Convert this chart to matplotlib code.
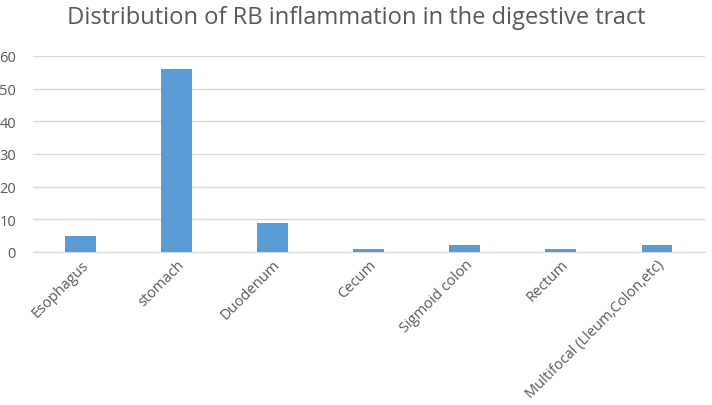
import matplotlib
matplotlib.use("Agg")
import matplotlib.pyplot as plt
import numpy as np

plt.rcParams["font.family"] = ["Open Sans", "DejaVu Sans"]

categories = ["Esophagus", "stomach", "Duodenum", "Cecum", "Sigmoid colon", "Rectum",
              "Multifocal (Lleum,Colon,etc)"]
counts = [5, 56, 9, 1, 2, 1, 2]
yticks = [0, 10, 20, 30, 40, 50, 60]

BAR = "#5b9bd5"
INK = "#595959"
GRID = "#d9d9d9"

fig = plt.figure(figsize=(7.12, 4.06), dpi=100)
ax = fig.add_axes([0.046, 0.377, 0.944, 0.483])

x = np.arange(len(categories))
ax.bar(x, counts, width=0.32, color=BAR, zorder=3)

ax.set_xlim(-0.5, len(categories) - 0.5)
ax.set_ylim(0, 60)
ax.set_yticks(yticks)
ax.yaxis.grid(True, color=GRID, linewidth=1, zorder=0)
for s in ["top", "right", "left"]:
    ax.spines[s].set_visible(False)
ax.spines["bottom"].set_color(GRID)
ax.tick_params(axis="both", length=0, colors=INK, labelsize=10.5)
ax.tick_params(axis="y", pad=12)
ax.set_xticks(x)
ax.set_xticklabels(categories, rotation=45, ha="right", rotation_mode="anchor")

fig.suptitle("Distribution of RB inflammation in the digestive tract",
             fontsize=17, color=INK, y=0.985)

fig.savefig("out.png", dpi=100)
